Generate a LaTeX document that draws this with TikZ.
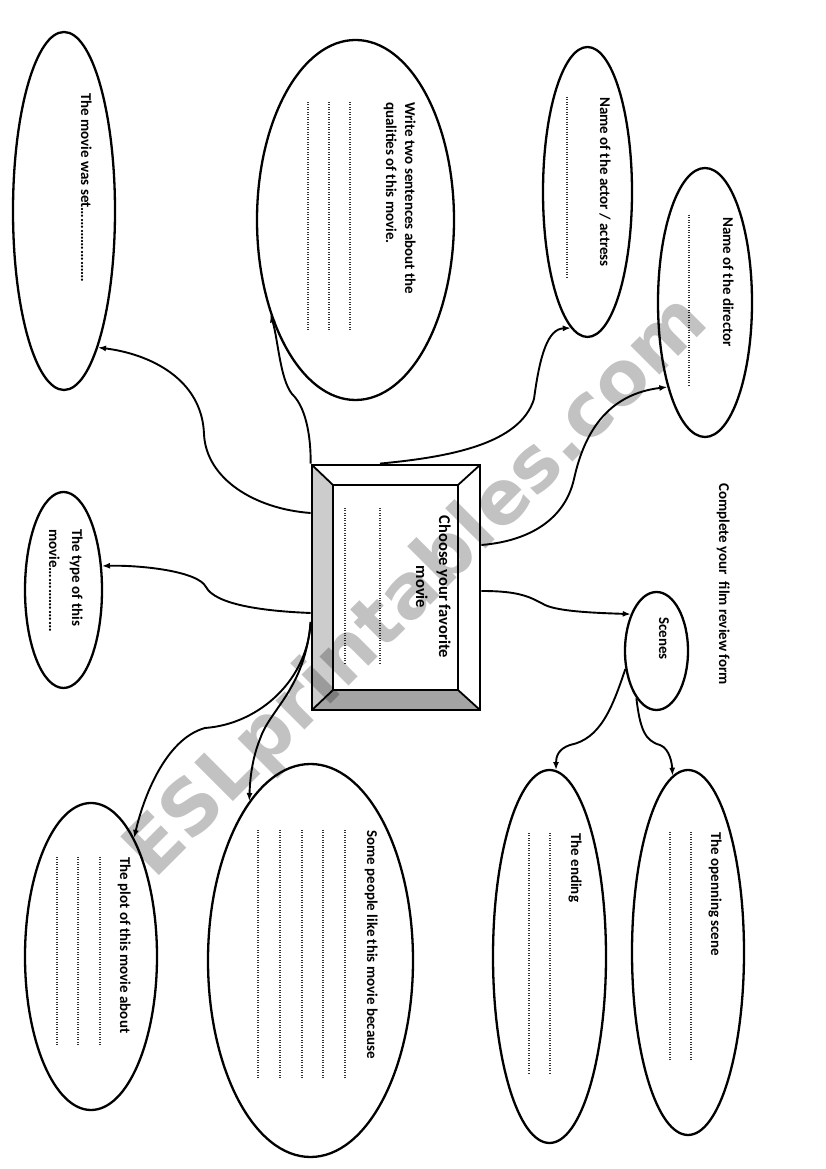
\documentclass[tikz,border=0pt]{standalone}
\usepackage{fontspec}
\setmainfont{Carlito}
\newfontfamily\wmfont{DejaVu Sans}
\usetikzlibrary{shapes.geometric,arrows.meta,calc}
\definecolor{bevelL}{HTML}{CCCCCC}
\definecolor{bevelB}{HTML}{A3A3A3}
\begin{document}
\begin{tikzpicture}[x=1pt,y=1pt,
  oval/.style={draw, line width=2.3pt, ellipse, inner sep=0pt},
  lbl/.style={rotate=-90, anchor=base west, inner sep=0pt, font=\fontsize{15}{18}\selectfont\bfseries},
  lblc/.style={lbl, anchor=base},
  dots/.style={line width=1.2pt, dash pattern=on 1pt off 1.5pt, black!80},
  conn/.style={line width=1.9pt, -{Latex[length=8pt,width=6pt]}},
  bevel/.style={line width=1.8pt},
]
\useasboundingbox (0,0) rectangle (826,1169);
\fill[white] (0,0) rectangle (826,1169);

% ovals
\node[oval, minimum width=102pt, minimum height=358pt] (e1) at (64,958) {};
\node[oval, minimum width=197pt, minimum height=360pt] (e2) at (355.5,949) {};
\node[oval, minimum width=89pt, minimum height=290pt] (e3) at (587.5,977) {};
\node[oval, minimum width=94pt, minimum height=269pt] (e4) at (705,866.5) {};
\node[oval, minimum width=63pt, minimum height=118pt] (e5) at (656.5,518) {};
\node[oval, minimum width=77pt, minimum height=196pt] (e6) at (63.5,579) {};
\node[oval, minimum width=132pt, minimum height=307pt] (e7) at (91,212.5) {};
\node[oval, minimum width=205pt, minimum height=393pt] (e8) at (310.5,208.5) {};
\node[oval, minimum width=113pt, minimum height=373pt] (e9) at (549.5,212.5) {};
\node[oval, minimum width=112pt, minimum height=365pt] (e10) at (688,216.5) {};

% central bevelled box
\fill[bevelL] (312,704) -- (333,684) -- (333,479) -- (312,459) -- cycle;
\fill[bevelB] (312,459) -- (333,479) -- (458,479) -- (480,459) -- cycle;
\draw[bevel] (312,704) -- (333,684) (480,704) -- (458,684) (480,459) -- (458,479) (312,459) -- (333,479);
\draw[line width=2.5pt] (333,479) rectangle (458,684);
\node[draw, line width=2.8pt, minimum width=168pt, minimum height=245pt, inner sep=0pt] (box) at (396,581.5) {};

% texts
\node[lbl] (t1) at (81,1076) {The movie was set…………………};
\node[lbl] (t2a) at (405,1067) {Write two sentences about the};
\node[lbl] (t2b) at (386,1067) {qualities of this movie.};
\node[lbl] (t3) at (600,1072) {Name of the actor / actress};
\node[lbl] (t4) at (723,952) {Name of the director};
\node[lblc, font=\fontsize{16.5}{20}\selectfont\bfseries] (t5a) at (439,582) {Choose your favorite};
\node[lblc, font=\fontsize{16.5}{20}\selectfont\bfseries] (t5b) at (416,582) {movie};
\node[lblc] (t6) at (659,530.5) {Scenes};
\node[lbl] (t7) at (719,686) {Complete your~~film review form};
\node[lbl] (t8a) at (72,640) {The type of this};
\node[lbl] (t8b) at (49,640) {movie………………};
\node[lbl] (t9) at (120,312) {The plot of this movie about};
\node[lbl] (t10) at (367,339) {Some people like this movie because};
\node[lbl] (t11) at (571,336) {The ending};
\node[lbl] (t12) at (711,337) {The openning scene};

% dotted answer lines
\foreach \x in {350,329,308} \draw[dots] (\x,1067) -- (\x,837);
\draw[dots] (567,1072) -- (567,891);
\draw[dots] (689,954) -- (689,782);
\foreach \x in {380,345} \draw[dots] (\x,661) -- (\x,504);
\foreach \x in {100,78,57} \draw[dots] (\x,312) -- (\x,124);
\foreach \x in {345,323,302,280,258} \draw[dots] (\x,339) -- (\x,89);
\foreach \x in {550,529} \draw[dots] (\x,336) -- (\x,94);
\foreach \x in {691,670} \draw[dots] (\x,337) -- (\x,107);

% connectors
\draw[conn] ($(box.west)+(0,74.5)$) .. controls (255,660) and (206,690) .. (204,735)
  .. controls (202,790) and (150,815) .. (e1.-76);
\draw[conn] (box.north west) .. controls (311,725) and (308,760) .. (292,775)
  .. controls (280,790) and (278,830) .. (e2.-132);
\draw[conn] ($(box.north)+(-16,0)$) .. controls (450,712) and (520,725) .. (534,770)
  .. controls (540,815) and (548,840) .. (e3.-97);
\draw[conn] ($(box.east)+(0,42.5)$) .. controls (530,628) and (565,650) .. (574,690)
  .. controls (585,740) and (610,775) .. (e4.-114);
\draw[conn] ($(box.east)+(0,-3.5)$) .. controls (520,578) and (530,572) .. (545,564)
  .. controls (560,557) and (600,556) .. (e5.125);
\draw[conn] ($(box.west)+(0,-25.5)$) .. controls (260,558) and (215,565) .. (206,582)
  .. controls (198,598) and (140,604) .. (e6.32);
\draw[conn] ($(box.west)+(0,-34.5)$) .. controls (308,490) and (260,445) .. (205,441)
  .. controls (165,430) and (143,370) .. (e7.70);
\draw[conn] ($(box.west)+(0,-34.5)$) .. controls (305,480) and (270,460) .. (260,430)
  .. controls (252,410) and (250,390) .. (e8.111);
\draw[conn] (e5.210) .. controls (612,460) and (600,430) .. (570,424)
  .. controls (558,420) and (556,412) .. (e9.88);
\draw[conn] (e5.247) .. controls (640,440) and (645,428) .. (660,424)
  .. controls (670,420) and (672,405) .. (e10.95);

% watermark
\node[rotate=45, opacity=0.24, inner sep=0pt, font=\wmfont\bfseries\fontsize{75}{80}\selectfont] (wm) at (418,581) {ESLprintables.com};
\end{tikzpicture}
\end{document}
